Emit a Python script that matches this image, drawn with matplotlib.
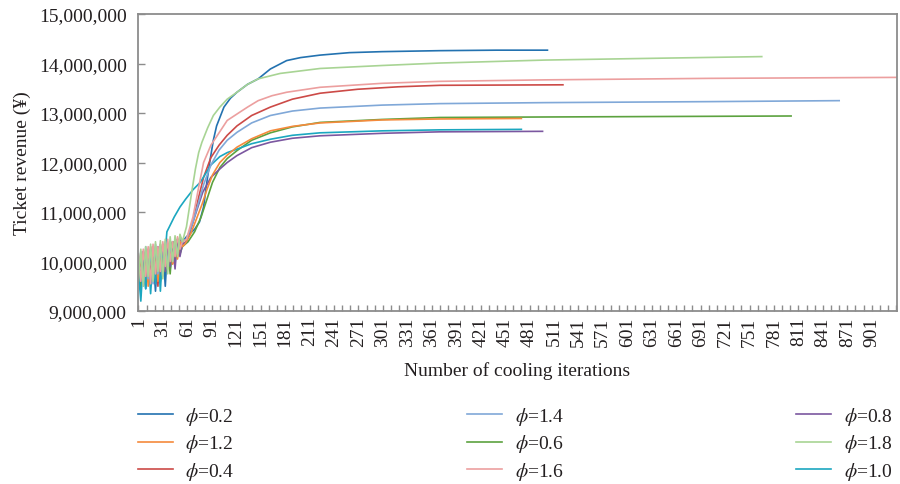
import matplotlib
matplotlib.use("Agg")
import matplotlib.pyplot as plt
from matplotlib.ticker import FuncFormatter, FixedLocator

plt.rcParams['font.family'] = ['Liberation Serif', 'DejaVu Serif']
plt.rcParams['mathtext.fontset'] = 'stix'

# ---------------- data (values in millions of yuan) ----------------
NOISE_IT = [1, 4, 7, 10, 13, 16, 19, 22, 25, 28, 31, 34, 37, 40, 43, 46, 49, 52, 55]

it_02 = NOISE_IT + [60, 70, 76, 81, 85, 89, 93, 97, 106, 114, 122, 135, 148, 163, 183, 200, 224, 260, 300, 371, 440, 503]
v_02 = [10.0, 9.5, 10.15, 9.45, 10.2, 9.65, 10.1, 9.4, 10.25, 9.7, 10.3, 9.5, 10.35, 9.85, 10.4, 10.0, 10.45, 10.2, 10.4,
        10.5, 10.65, 10.8, 11.1, 11.6, 12.05, 12.45, 12.74, 13.12, 13.3, 13.42, 13.58, 13.69, 13.89, 14.06, 14.12, 14.17,
        14.22, 14.24, 14.26, 14.27, 14.27]

it_04 = NOISE_IT + [60, 68, 75, 81, 90, 100, 110, 122, 140, 163, 190, 224, 270, 320, 371, 522]
v_04 = [9.7, 10.1, 9.55, 10.2, 9.6, 10.3, 9.75, 10.25, 9.5, 10.35, 9.8, 10.3, 9.9, 10.4, 9.95, 10.45, 10.1, 10.5, 10.35,
        10.4, 10.8, 11.3, 11.7, 12.1, 12.35, 12.55, 12.74, 12.95, 13.12, 13.28, 13.40, 13.48, 13.53, 13.56, 13.57]

it_06 = NOISE_IT + [62, 70, 78, 85, 92, 101, 110, 122, 140, 163, 190, 224, 300, 371, 500, 650, 802]
v_06 = [9.9, 9.45, 10.2, 9.6, 10.15, 9.55, 10.3, 9.7, 10.2, 9.6, 10.35, 9.8, 10.3, 9.75, 10.4, 10.0, 10.35, 10.15, 10.3,
        10.4, 10.6, 10.9, 11.25, 11.6, 11.9, 12.08, 12.24, 12.45, 12.60, 12.72, 12.81, 12.87, 12.91, 12.92, 12.93, 12.94]

it_08 = NOISE_IT + [60, 70, 80, 90, 101, 110, 122, 140, 163, 190, 224, 300, 371, 497]
v_08 = [10.1, 9.6, 10.2, 9.5, 10.25, 9.7, 10.2, 9.55, 10.3, 9.65, 10.25, 9.8, 10.35, 9.9, 10.4, 9.85, 10.45, 10.1, 10.35,
        10.4, 10.9, 11.4, 11.7, 11.87, 12.0, 12.14, 12.3, 12.41, 12.49, 12.54, 12.59, 12.62, 12.63]

it_10 = [1, 4, 7, 10, 13, 16, 19, 22, 25, 28, 31, 34,
         36, 45, 52, 59, 68, 77, 90, 101, 110, 122, 140, 163, 190, 224, 300, 371, 471]
v_10 = [9.8, 9.2, 10.05, 9.45, 10.2, 9.35, 10.1, 9.55, 10.25, 9.4, 10.3, 10.2,
        10.6, 10.9, 11.1, 11.26, 11.45, 11.6, 11.95, 12.12, 12.2, 12.27, 12.38, 12.47, 12.55, 12.60, 12.64, 12.66, 12.67]

it_12 = NOISE_IT + [58, 65, 72, 79, 85, 92, 101, 110, 122, 140, 163, 190, 224, 300, 371, 471]
v_12 = [9.75, 10.1, 9.6, 10.25, 9.5, 10.2, 9.7, 10.3, 9.6, 10.2, 9.85, 10.35, 9.85, 10.4, 9.95, 10.45, 10.05, 10.4, 10.3,
        10.35, 10.55, 10.85, 11.15, 11.45, 11.75, 12.0, 12.15, 12.31, 12.48, 12.64, 12.73, 12.80, 12.86, 12.88, 12.89]

it_14 = NOISE_IT + [60, 68, 75, 81, 90, 100, 110, 122, 140, 163, 190, 224, 300, 371, 500, 700, 861]
v_14 = [9.85, 10.2, 9.5, 10.3, 9.65, 10.25, 9.55, 10.35, 9.75, 10.3, 9.7, 10.4, 9.95, 10.35, 10.0, 10.45, 10.15, 10.5, 10.4,
        10.45, 10.8, 11.2, 11.55, 11.95, 12.25, 12.45, 12.61, 12.8, 12.95, 13.04, 13.10, 13.16, 13.19, 13.21, 13.23, 13.25]

it_16 = NOISE_IT + [60, 68, 75, 81, 90, 100, 110, 122, 135, 148, 165, 183, 224, 300, 371, 500, 700, 931]
v_16 = [10.15, 9.6, 10.25, 9.7, 10.3, 9.55, 10.35, 9.75, 10.3, 9.8, 10.4, 9.9, 10.45, 10.0, 10.4, 10.1, 10.5, 10.25, 10.4,
        10.45, 10.9, 11.5, 12.0, 12.35, 12.6, 12.85, 12.98, 13.12, 13.25, 13.35, 13.42, 13.52, 13.60, 13.64, 13.67, 13.70, 13.72]

it_18 = NOISE_IT + [60, 67, 71, 75, 79, 86, 93, 101, 110, 122, 135, 148, 175, 224, 300, 371, 500, 650, 766]
v_18 = [9.6, 10.25, 9.5, 10.3, 9.7, 10.35, 9.6, 10.4, 9.8, 10.42, 9.65, 10.45, 9.75, 10.5, 10.0, 10.52, 10.1, 10.55, 10.4,
        10.7, 11.46, 11.87, 12.2, 12.41, 12.7, 12.95, 13.12, 13.28, 13.42, 13.58, 13.69, 13.80, 13.90, 13.96, 14.01, 14.07, 14.11, 14.14]

labels = ['0.2', '0.4', '0.6', '0.8', '1.0', '1.2', '1.4', '1.6', '1.8']
iters = [it_02, it_04, it_06, it_08, it_10, it_12, it_14, it_16, it_18]
vals = [v_02, v_04, v_06, v_08, v_10, v_12, v_14, v_16, v_18]
colors = ['#2372b0', '#cc4a47', '#5ca23f', '#7b57a0', '#1ba7c0', '#f58a3c', '#80a8d8', '#ec9f9f', '#a8d494']
legend_order = ['0.2', '1.2', '0.4', '1.4', '0.6', '1.6', '0.8', '1.8', '1.0']

y_ticks = [9, 10, 11, 12, 13, 14, 15]
x_label_ticks = list(range(1, 902, 30))

# ---------------- figure ----------------
fig = plt.figure(figsize=(9.0, 4.85), dpi=100)
ax = fig.add_axes([0.1533, 0.3567, 0.8434, 0.6123])

handles = {}
for lab, xs, ys, c in zip(labels, iters, vals, colors):
    ln, = ax.plot(xs, [v * 1e6 for v in ys], color=c, lw=1.2, solid_joinstyle='round')
    handles[lab] = ln

ax.set_xlim(0.5, 932)
ax.set_ylim(9e6, 15e6)
ax.set_yticks([t * 1e6 for t in y_ticks])
ax.yaxis.set_major_formatter(FuncFormatter(lambda v, p: f'{v:,.0f}'))
ax.xaxis.set_major_locator(FixedLocator(x_label_ticks))
ax.xaxis.set_minor_locator(FixedLocator([t for t in range(1, 932, 10)]))
ax.set_xticklabels([str(t) for t in x_label_ticks], rotation=90)

spine_c = '#8c8c8c'
for s in ax.spines.values():
    s.set_color(spine_c)
    s.set_linewidth(1.3)
ax.tick_params(axis='both', which='both', direction='in', color=spine_c, width=1.0,
               labelsize=14, labelcolor='#231f20')
ax.tick_params(axis='x', which='both', length=4, pad=4)
ax.tick_params(axis='y', which='major', length=5, pad=8)

ax.set_ylabel('Ticket revenue (¥)', fontsize=14, color='#231f20', labelpad=6)
ax.set_xlabel('Number of cooling iterations', fontsize=14, color='#231f20', labelpad=11)

leg = fig.legend([handles[l] for l in legend_order], [rf'$\phi$=' + l for l in legend_order],
                 ncol=3, loc='upper left', bbox_to_anchor=(0.153, 0.163), frameon=False,
                 fontsize=14, handlelength=1.8, handletextpad=0.65, columnspacing=11.95,
                 labelspacing=0.28, borderpad=0, borderaxespad=0)
for t in leg.get_texts():
    t.set_color('#231f20')

fig.savefig('out.png', dpi=100)
